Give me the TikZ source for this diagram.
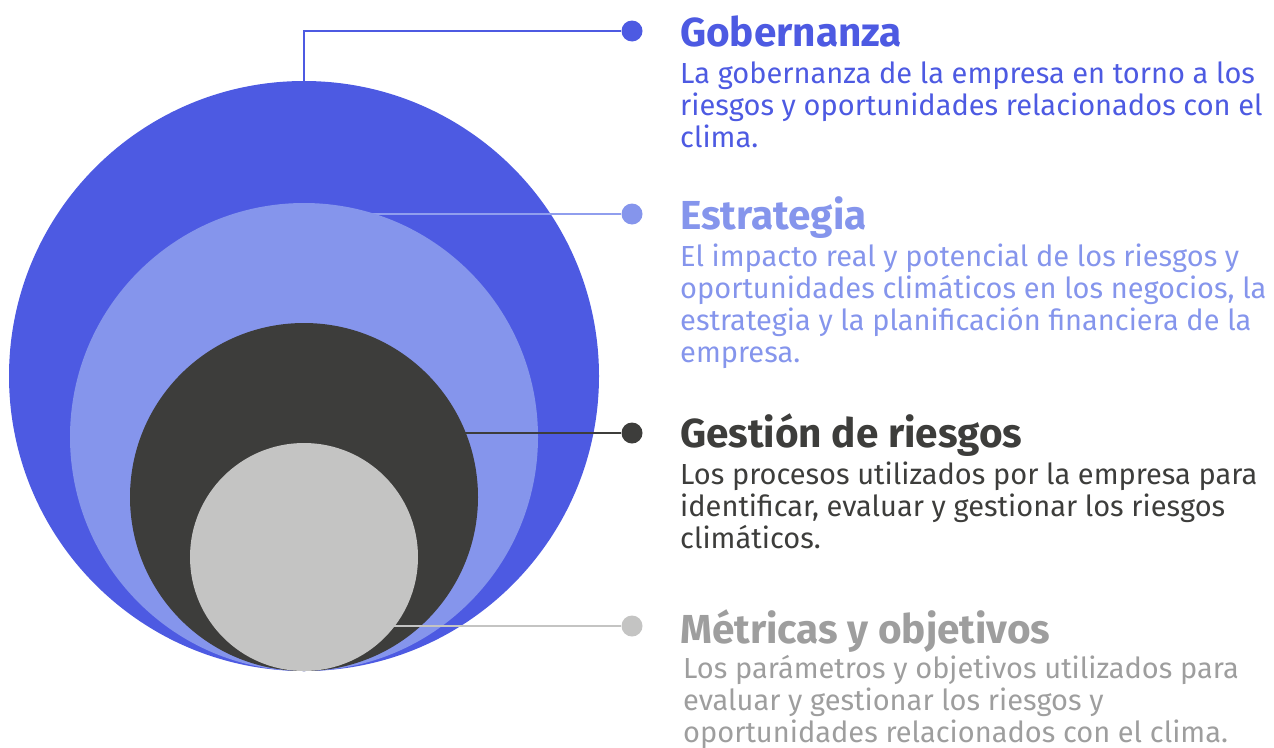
\documentclass[tikz,border=0pt]{standalone}
\usepackage{fontspec}
\setmainfont{Fira Sans}
\definecolor{cblue}{HTML}{4D5AE2}
\definecolor{clight}{HTML}{8595EC}
\definecolor{clightline}{HTML}{909EEE}
\definecolor{cdark}{HTML}{3D3D3B}
\definecolor{cgrey}{HTML}{C4C4C3}
\definecolor{cgreytext}{HTML}{9E9E9E}
\begin{document}
\begin{tikzpicture}[x=1pt,y=-1pt,
  circ/.style={circle,inner sep=0pt,draw=none},
  dotnode/.style={circle,inner sep=0pt,minimum size=21pt,draw=none},
  conn/.style={line width=2pt},
  headtext/.style={anchor=base west,inner sep=0pt,font=\fontsize{40.5}{44}\selectfont\bfseries},
  bodytext/.style={anchor=base west,inner sep=0pt,align=left,font=\fontsize{29}{32}\selectfont}]
\useasboundingbox (0,0) rectangle (1274,747);
% Gobernanza
\node[circ,fill=cblue,minimum size=590pt] (c1) at (304,376) {};
\node[dotnode,fill=cblue] (d1) at (632,31) {};
\draw[conn,cblue] (c1.north) |- (d1);
% Estrategia
\coordinate (o2) at (304,437);
\node[dotnode,fill=clight] (d2) at (632,214) {};
\draw[conn,clightline] (d2) -- (d2 -| o2);
\node[circ,fill=clight,minimum size=468pt] (c2) at (o2) {};
% Gestion
\coordinate (o3) at (304,497);
\node[dotnode,fill=cdark] (d3) at (632,433) {};
\draw[conn,cdark] (d3) -- (d3 -| o3);
\node[circ,fill=cdark,minimum size=348pt] (c3) at (o3) {};
% Metricas
\coordinate (o4) at (304,557);
\node[dotnode,fill=cgrey] (d4) at (632,626) {};
\draw[conn,cgrey] (d4) -- (d4 -| o4);
\node[circ,fill=cgrey,minimum size=228pt] (c4) at (o4) {};
% texts (body nodes anchored at the baseline of their last line)
\node[headtext,text=cblue] (h1) at (680,46) {Gobernanza};
\node[bodytext,text=cblue] (b1) at (680,147) {La gobernanza de la empresa en torno a los\\riesgos y oportunidades relacionados con el\\clima.};
\node[headtext,text=clight] (h2) at (680,229) {Estrategia};
\node[bodytext,text=clight] (b2) at (680,362) {El impacto real y potencial de los riesgos y\\oportunidades climáticos en los negocios, la\\estrategia y la planificación financiera de la\\empresa.};
\node[headtext,text=cdark] (h3) at (680,447) {Gestión de riesgos};
\node[bodytext,text=cdark] (b3) at (680,548) {Los procesos utilizados por la empresa para\\identificar, evaluar y gestionar los riesgos\\climáticos.};
\node[headtext,text=cgreytext] (h4) at (680,643) {Métricas y objetivos};
\node[bodytext,text=cgreytext] (b4) at (683,742) {Los parámetros y objetivos utilizados para\\evaluar y gestionar los riesgos y\\oportunidades relacionados con el clima.};
\end{tikzpicture}
\end{document}
